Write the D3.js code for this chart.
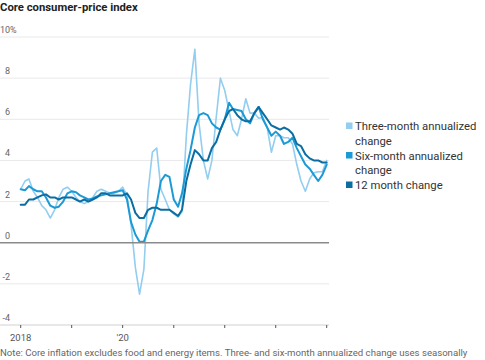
<!DOCTYPE html>
<html><head><meta charset="utf-8">
<script src="https://cdn.jsdelivr.net/npm/d3@7"></script>
<style>
html,body{margin:0;padding:0;background:#fff;}
svg{display:block;font-family:Roboto,"Noto Sans",sans-serif;}
</style></head>
<body><svg id="c" width="485" height="360"></svg>
<script>
const startMonth = "2018-01";
const threeMonth = [2.6,3.0,3.1,2.5,2.2,1.8,1.6,1.2,1.6,2.2,2.6,2.7,
  2.5,2.2,2.0,1.9,2.0,2.2,2.5,2.6,2.5,2.4,2.4,2.5,
  2.7,2.3,0.9,-1.2,-2.5,-1.3,2.5,4.4,4.6,2.6,2.1,1.6,
  1.4,1.25,1.5,5.2,7.7,9.4,5.8,4.0,3.1,4.0,6.1,8.0,
  7.4,6.4,5.5,5.2,6.0,7.0,6.3,6.3,6.05,6.1,5.6,4.4,
  5.2,5.2,5.1,5.1,4.8,3.8,3.0,2.5,3.1,3.4,3.45,3.45,
  4.0];
const sixMonth = [2.6,2.55,2.75,2.6,2.5,2.5,2.2,1.8,1.7,1.75,2.0,2.4,
  2.5,2.45,2.3,2.2,2.1,2.15,2.25,2.3,2.35,2.4,2.45,2.5,
  2.55,2.1,1.0,0.4,0.05,0.05,0.6,1.1,1.9,3.0,3.3,3.2,
  2.1,1.75,2.4,3.6,4.5,5.6,6.2,6.3,6.2,5.8,5.6,5.5,
  6.0,6.8,6.5,6.45,6.4,6.0,5.8,6.3,6.6,6.0,5.6,5.2,
  5.4,5.2,4.8,4.9,5.1,4.6,4.2,3.8,3.6,3.3,3.0,3.3,
  3.8];
const twelveMonth = [1.85,1.85,2.1,2.1,2.2,2.3,2.35,2.2,2.2,2.1,2.2,2.2,
  2.2,2.1,2.0,2.1,2.0,2.1,2.2,2.4,2.4,2.3,2.3,2.3,
  2.3,2.4,2.1,1.45,1.2,1.2,1.6,1.7,1.7,1.6,1.6,1.6,
  1.45,1.3,1.6,3.0,3.8,4.5,4.3,4.0,4.0,4.6,4.9,5.5,
  6.0,6.4,6.5,6.2,6.0,5.9,5.9,6.3,6.6,6.3,6.0,5.7,
  5.6,5.5,5.6,5.5,5.3,4.8,4.7,4.3,4.1,4.0,4.0,3.9,
  3.9];
const yTicks = [-4,-2,0,2,4,6,8,10];
const xTickYears = [2018,2019,2020,2021,2022,2023,2024];
const xTickLabels = {2018:"2018", 2020:"'20"};
const seriesNames = ["Three-month annualized change","Six-month annualized change","12 month change"];

const colors = ["#93cdef","#1b9ad6","#0b6ea3"];
const widths = [1.6,2,2];

const svg = d3.select("#c");
const t0 = d3.timeParse("%Y-%m")(startMonth);
const dates = threeMonth.map((_,i)=>d3.timeMonth.offset(t0,i));

const x = d3.scaleTime().domain([new Date(2018,0,1), new Date(2024,0,1)]).range([20.7,326.7]);
const y = d3.scaleLinear().domain([-4,10]).range([325,37]);
const gridX0 = 0, gridX1 = 329;

// title
svg.append("text").attr("x",0).attr("y",11).attr("font-size",11.3).attr("font-weight",700)
  .attr("fill","#222").text("Core consumer-price index");

// gridlines
const g = svg.append("g");
yTicks.forEach(v=>{
  if (v===0) return;
  g.append("line").attr("x1",gridX0).attr("x2",gridX1).attr("y1",y(v)).attr("y2",y(v))
   .attr("stroke", v===-4 ? "#d0d0d0" : "#e9e9e9").attr("stroke-width",1);
});
// y labels
yTicks.forEach(v=>{
  svg.append("text").attr("x",10).attr("y",y(v)-4).attr("font-size",9)
    .attr("fill","#666").attr("text-anchor","end").text(v<0 ? "-"+Math.abs(v) : String(v));
  if (v===10) svg.append("text").attr("x",10).attr("y",y(v)-4).attr("font-size",9).attr("fill","#666").text("%");
});

// x axis ticks
xTickYears.forEach(yr=>{
  const xx = x(new Date(yr,0,1));
  svg.append("line").attr("x1",xx).attr("x2",xx).attr("y1",325).attr("y2",328)
    .attr("stroke","#555").attr("stroke-width",1);
  if (xTickLabels[yr]) svg.append("text").attr("x",xx).attr("y",341).attr("font-size",9.5)
    .attr("fill","#555").attr("text-anchor","middle").text(xTickLabels[yr]);
});

// lines
const line = d3.line().x((d,i)=>x(dates[i])).y(d=>y(d));
[threeMonth, sixMonth, twelveMonth].forEach((s,k)=>{
  svg.append("path").datum(s).attr("d",line).attr("fill","none")
    .attr("stroke",colors[k]).attr("stroke-width",widths[k])
    .attr("stroke-linejoin","round").attr("stroke-linecap","round");
});

// zero line
svg.append("line").attr("x1",gridX0).attr("x2",gridX1).attr("y1",y(0)).attr("y2",y(0))
  .attr("stroke","#8a8a8a").attr("stroke-width",1.6);

// legend
const legendRows = [
  {lines:["Three-month annualized","change"], y:130, c:colors[0]},
  {lines:["Six-month annualized","change"], y:159.5, c:colors[1]},
  {lines:["12 month change"], y:189, c:colors[2]}
];
legendRows.forEach(r=>{
  svg.append("rect").attr("x",346).attr("y",r.y-7.5).attr("width",6.5).attr("height",6.5).attr("fill",r.c);
  r.lines.forEach((t,i)=>{
    svg.append("text").attr("x",355).attr("y",r.y+i*14.5).attr("font-size",11.3)
      .attr("fill","#333").text(t);
  });
});

// note
svg.append("text").attr("x",0).attr("y",356).attr("font-size",9.6).attr("fill","#666")
  .text("Note: Core inflation excludes food and energy items. Three- and six-month annualized change uses seasonally");
</script></body></html>
